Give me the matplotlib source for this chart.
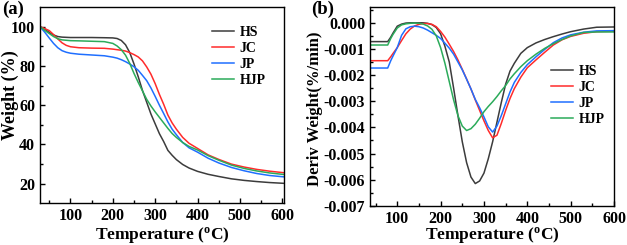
import matplotlib

matplotlib.use("Agg")
import matplotlib.pyplot as plt  # noqa: E402

plt.rcParams["font.family"] = ["Liberation Serif", "DejaVu Serif"]
plt.rcParams["font.weight"] = "bold"
plt.rcParams["mathtext.default"] = "regular"

series_names = ["HS", "JC", "JP", "HJP"]
colors = ["#3c3c3c", "#ff2b2b", "#1f6fff", "#2bab5a"]

# (a) TGA: temperature (C) and weight (%)
temp_a = [28, 40, 50, 60, 70, 80, 90, 100, 120, 150, 180, 200, 210, 220, 230, 240,
          250, 260, 270, 280, 290, 300, 310, 320, 330, 340, 350, 365, 380, 400,
          425, 450, 480, 510, 540, 570, 604]
weight_hs = [100, 98.7, 97, 95.8, 95.0, 94.7, 94.6, 94.5, 94.5, 94.5, 94.4, 94.3, 94.0,
             93.0, 90.8, 86.8, 81, 74.5, 67.5, 61.5, 55.5, 50.5, 45.5, 41.5, 37, 34.5,
             32.3, 29.8, 28, 26.3, 24.8, 23.7, 22.5, 21.7, 21.1, 20.6, 20.2]
weight_jc = [100, 99, 98, 96, 93.8, 91.8, 90.5, 89.8, 89.3, 89.1, 89.0, 88.6, 88.3,
             88.0, 87.6, 86.8, 85.8, 84.6, 82.6, 79.5, 75.8, 71, 65.5, 60.5, 55, 51,
             47.8, 43.6, 40.6, 38.0, 34.7, 32.4, 30, 28.5, 27.3, 26.4, 25.6]
weight_jp = [100, 97, 94.2, 91.5, 89.3, 87.8, 87, 86.5, 86, 85.6, 85.2, 84.5, 84, 83.2,
             82.2, 81.0, 79.6, 77.8, 75.2, 72.5, 68.8, 64.5, 60, 55.8, 51.5, 47.8,
             45.0, 41, 38.3, 36.1, 33, 30.6, 28.3, 26.6, 25.2, 24.2, 23.5]
weight_hjp = [100, 98, 96.5, 95, 93.9, 93.3, 93.1, 92.9, 92.8, 92.6, 92.4, 91.5, 90.2,
              88.3, 85.5, 81.3, 76.2, 71.6, 67.3, 63, 59.6, 56.6, 53.8, 51, 48.2, 45.6,
              43.6, 41, 39, 37.2, 34.3, 32, 29.5, 27.8, 26.5, 25.5, 24.7]

# (b) DTG: temperature (C) and derivative weight (x 1e-3 %/min)
temp_b = [37, 60, 78, 85, 90, 100, 110, 120, 130, 140, 150, 160, 170, 180, 190, 200,
          210, 220, 230, 240, 250, 260, 270, 280, 290, 300, 310, 320, 330, 340, 350,
          360, 370, 385, 400, 420, 440, 460, 480, 500, 530, 560, 601]
deriv_hs = [-0.72, -0.72, -0.72, -0.55, -0.4, -0.13, -0.05, -0.01, 0, 0, 0, 0, -0.02,
            -0.07, -0.18, -0.42, -0.9, -1.5, -2.5, -3.55, -4.55, -5.35, -5.9, -6.15,
            -6.05, -5.75, -5.2, -4.55, -3.8, -3.05, -2.35, -1.85, -1.55, -1.17, -0.95,
            -0.77, -0.64, -0.53, -0.43, -0.34, -0.24, -0.17, -0.16]
deriv_jc = [-1.45, -1.45, -1.45, -1.3, -1.18, -0.95, -0.68, -0.42, -0.24, -0.12, -0.06,
            -0.03, -0.03, -0.06, -0.15, -0.33, -0.55, -0.82, -1.1, -1.42, -1.78, -2.15,
            -2.53, -2.95, -3.35, -3.75, -4.12, -4.4, -4.3, -3.85, -3.35, -2.9, -2.52,
            -2.08, -1.72, -1.42, -1.13, -0.85, -0.65, -0.52, -0.4, -0.34, -0.32]
deriv_jp = [-1.73, -1.73, -1.73, -1.45, -1.28, -0.95, -0.48, -0.23, -0.15, -0.13, -0.15,
            -0.2, -0.28, -0.38, -0.48, -0.6, -0.78, -0.97, -1.2, -1.5, -1.8, -2.16,
            -2.53, -2.93, -3.25, -3.6, -3.98, -4.18, -3.95, -3.55, -3.1, -2.65, -2.28,
            -1.9, -1.6, -1.3, -1.02, -0.76, -0.58, -0.46, -0.36, -0.31, -0.3]
deriv_hjp = [-0.85, -0.85, -0.85, -0.6, -0.45, -0.2, -0.08, -0.04, -0.02, -0.01, -0.02,
             -0.05, -0.12, -0.25, -0.5, -0.95, -1.55, -2.25, -2.95, -3.55, -3.95, -4.12,
             -4.05, -3.88, -3.65, -3.4, -3.2, -3.02, -2.82, -2.6, -2.4, -2.15, -1.95,
             -1.68, -1.45, -1.2, -0.98, -0.8, -0.64, -0.5, -0.37, -0.35, -0.35]

fig = plt.figure(figsize=(6.27, 2.45), dpi=100)
ax_a = fig.add_axes([0.0638, 0.170, 0.389, 0.801])
ax_b = fig.add_axes([0.590, 0.160, 0.390, 0.811])

for name, color, w in zip(series_names, colors, [weight_hs, weight_jc, weight_jp, weight_hjp]):
    ax_a.plot(temp_a, w, color=color, lw=1.1, label=name)
for name, color, d in zip(series_names, colors, [deriv_hs, deriv_jc, deriv_jp, deriv_hjp]):
    ax_b.plot(temp_b, [v * 1e-3 for v in d], color=color, lw=1.1, label=name)

ax_a.set_xlim(28, 604)
ax_a.set_ylim(10, 110)
ax_a.set_xticks([100, 200, 300, 400, 500, 600])
ax_a.set_xticks([50, 150, 250, 350, 450, 550], minor=True)
ax_a.set_yticks([20, 40, 60, 80, 100])
ax_a.set_yticks([30, 50, 70, 90], minor=True)

ax_b.set_xlim(37, 601)
ax_b.set_ylim(-0.007, 0.0006)
ax_b.set_xticks([100, 200, 300, 400, 500, 600])
ax_b.set_xticks([50, 150, 250, 350, 450, 550], minor=True)
ax_b.set_yticks([-0.007, -0.006, -0.005, -0.004, -0.003, -0.002, -0.001, 0.0])
ax_b.set_yticklabels(["-0.007", "-0.006", "-0.005", "-0.004", "-0.003", "-0.002",
                      "-0.001", "0.000"])
ax_b.set_yticks([-0.0065, -0.0055, -0.0045, -0.0035, -0.0025, -0.0015, -0.0005,
                 0.0005], minor=True)

for ax in (ax_a, ax_b):
    ax.tick_params(which="both", direction="in", labelsize=11.5, pad=3.5, width=1)
    ax.tick_params(which="major", length=3.5)
    ax.tick_params(which="minor", length=2)
    for s in ax.spines.values():
        s.set_linewidth(1.0)
    ax.set_xlabel(r"Temperature ($^{o}$C)", fontsize=12.5, fontweight="bold")
    ax.legend(loc="upper left", frameon=False, fontsize=10, handlelength=1.6,
              handletextpad=0.4, labelspacing=0.22, borderpad=0, borderaxespad=0)

ax_a.xaxis.set_label_coords(0.5, -0.112)
ax_b.xaxis.set_label_coords(0.5, -0.097)
ax_a.legend_.set_bbox_to_anchor((0.705, 0.905))
ax_b.legend_.set_bbox_to_anchor((0.74, 0.71))
ax_a.set_ylabel("Weight (%)", fontsize=13, fontweight="bold")
ax_a.yaxis.set_label_coords(-0.088, 0.55)
ax_b.set_ylabel("Deriv Weight(%/min)", fontsize=12, fontweight="bold")
ax_b.yaxis.set_label_coords(-0.19, 0.49)

fig.text(0.003, 0.997, "(a)", fontsize=13.5, fontweight="bold", va="top", ha="left")
fig.text(0.497, 0.997, "(b)", fontsize=13.5, fontweight="bold", va="top", ha="left")

fig.savefig("out.png", dpi=100)
plt.close(fig)
